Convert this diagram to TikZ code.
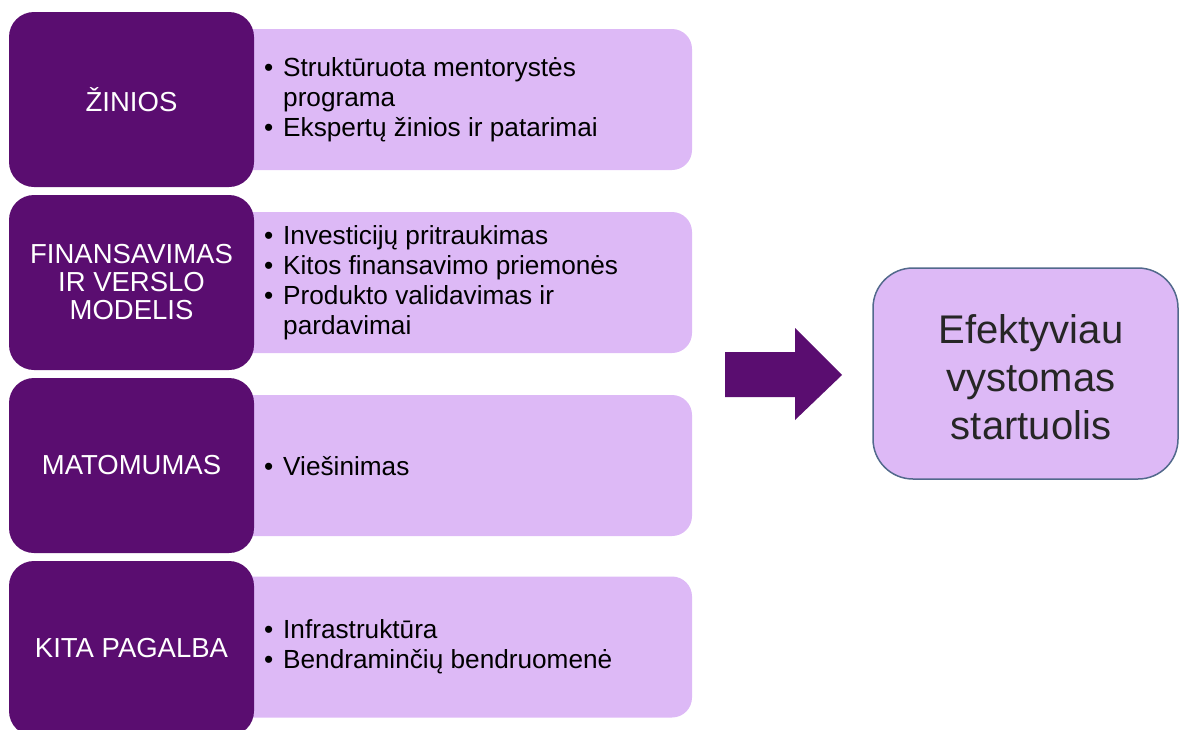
\documentclass[tikz,border=0pt]{standalone}
\usepackage{fontspec}
\setmainfont{Liberation Sans}
\definecolor{darkplum}{HTML}{5A0D70}
\definecolor{lilac}{HTML}{DDB9F6}
\definecolor{slateedge}{HTML}{52698C}
\newcommand{\bitem}[1]{\makebox[19pt][l]{\char"2022}#1}
\newcommand{\bcont}[1]{\makebox[19pt][l]{}#1}
\begin{document}
\begin{tikzpicture}[x=1pt,y=-1pt,
  catbox/.style={fill=darkplum, draw=none, rounded corners=25pt,
    minimum width=245pt, minimum height=175pt, inner sep=0pt,
    text=white, align=center, font=\fontsize{27.5}{28}\selectfont},
  detailbox/.style={fill=lilac, draw=none, rounded corners=20pt,
    minimum width=492pt, minimum height=141pt, inner sep=0pt},
  detailtext/.style={anchor=west, inner sep=0pt, align=left,
    text=black, font=\fontsize{26.2}{30}\selectfont},
  resultbox/.style={fill=lilac, draw=slateedge, line width=1.5pt,
    rounded corners=40pt, minimum width=305pt, minimum height=211pt},
  resulttext/.style={align=center, inner sep=0pt,
    font=\fontsize{40}{48}\selectfont, text=black!85},
  blockarrow/.style={fill=darkplum, draw=none}]
\useasboundingbox (0,0) rectangle (1180,729);
\clip (0,0) rectangle (1180,729);

% light detail panels (left ends tucked behind the category boxes)
\node[detailbox] (d1) at (446,99.5) {};
\node[detailbox] (d2) at (446,282.5) {};
\node[detailbox] (d3) at (446,465.5) {};
\node[detailbox] (d4) at (446,647) {};

% category boxes
\node[catbox] (c1) at (131.5,99.5) {ŽINIOS};
\node[catbox] (c2) at (131.5,282.5) {FINANSAVIMAS\\IR VERSLO\\MODELIS};
\node[catbox] (c3) at (131.5,465.5) {MATOMUMAS};
\node[catbox] (c4) at (131.5,648.5) {KITA PAGALBA};

% bullet lists
\node[detailtext] (t1) at (264,99.5) {\bitem{Struktūruota mentorystės}\\\bcont{programa}\\\bitem{Ekspertų žinios ir patarimai}};
\node[detailtext] (t2) at (264,283) {\bitem{Investicijų pritraukimas}\\\bitem{Kitos finansavimo priemonės}\\\bitem{Produkto validavimas ir}\\\bcont{pardavimai}};
\node[detailtext] (t3) at (264,466) {\bitem{Viešinimas}};
\node[detailtext] (t4) at (264,647) {\bitem{Infrastruktūra}\\\bitem{Bendraminčių bendruomenė}};

% outcome
\node[resultbox] (r) at (1025.5,373.5) {};
\node[resulttext] (rt) at (1031,377) {Efektyviau\\vystomas\\startuolis};

% block arrow toward the outcome
\coordinate (a0) at (725,352);
\coordinate (tip) at (842,375);
\fill[blockarrow] (a0) -- (795,352) -- (795,328) -- (tip) -- (795,420) -- (795,397) -- (725,397) -- cycle;
\end{tikzpicture}
\end{document}
